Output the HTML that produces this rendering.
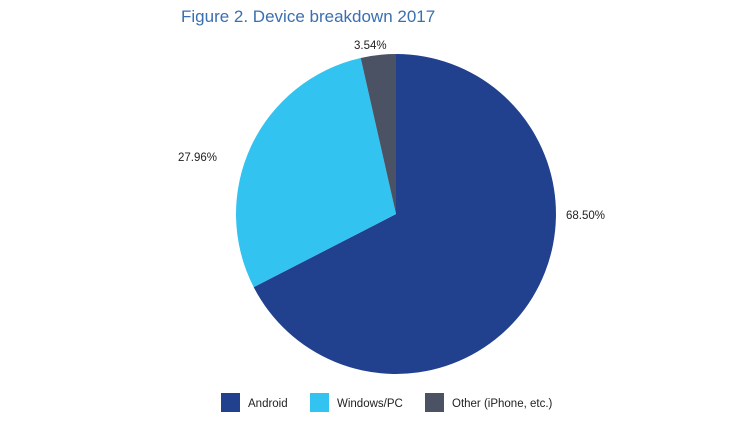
<!DOCTYPE html>
<html><head><style>
body{margin:0;width:750px;height:422px;background:#fff;overflow:hidden;font-family:"Liberation Sans",sans-serif}
</style></head><body>
<svg width="750" height="422" xmlns="http://www.w3.org/2000/svg">
<text x="181" y="22" font-size="17" fill="#3a6fb0" font-family="Liberation Sans, sans-serif">Figure 2. Device breakdown 2017</text>
<path d="M396,214 L396,54 A160,160 0 1,1 253.7,287.2 Z" fill="#21418f"/>
<path d="M396,214 L253.7,287.2 A160,160 0 0,1 360.7,58 Z" fill="#33c3f0"/>
<path d="M396,214 L360.7,58 A160,160 0 0,1 396,54 Z" fill="#4a5264"/>
<g font-size="11.5" fill="#222" font-family="Liberation Sans, sans-serif">
<text x="354" y="49">3.54%</text>
<text x="178" y="161">27.96%</text>
<text x="566" y="219">68.50%</text>
<rect x="221" y="393" width="19" height="19" fill="#21418f"/>
<text x="248" y="407">Android</text>
<rect x="310" y="393" width="19" height="19" fill="#33c3f0"/>
<text x="337" y="407">Windows/PC</text>
<rect x="425" y="393" width="19" height="19" fill="#4a5264"/>
<text x="452" y="407">Other (iPhone, etc.)</text>
</g>
</svg>
</body></html>
